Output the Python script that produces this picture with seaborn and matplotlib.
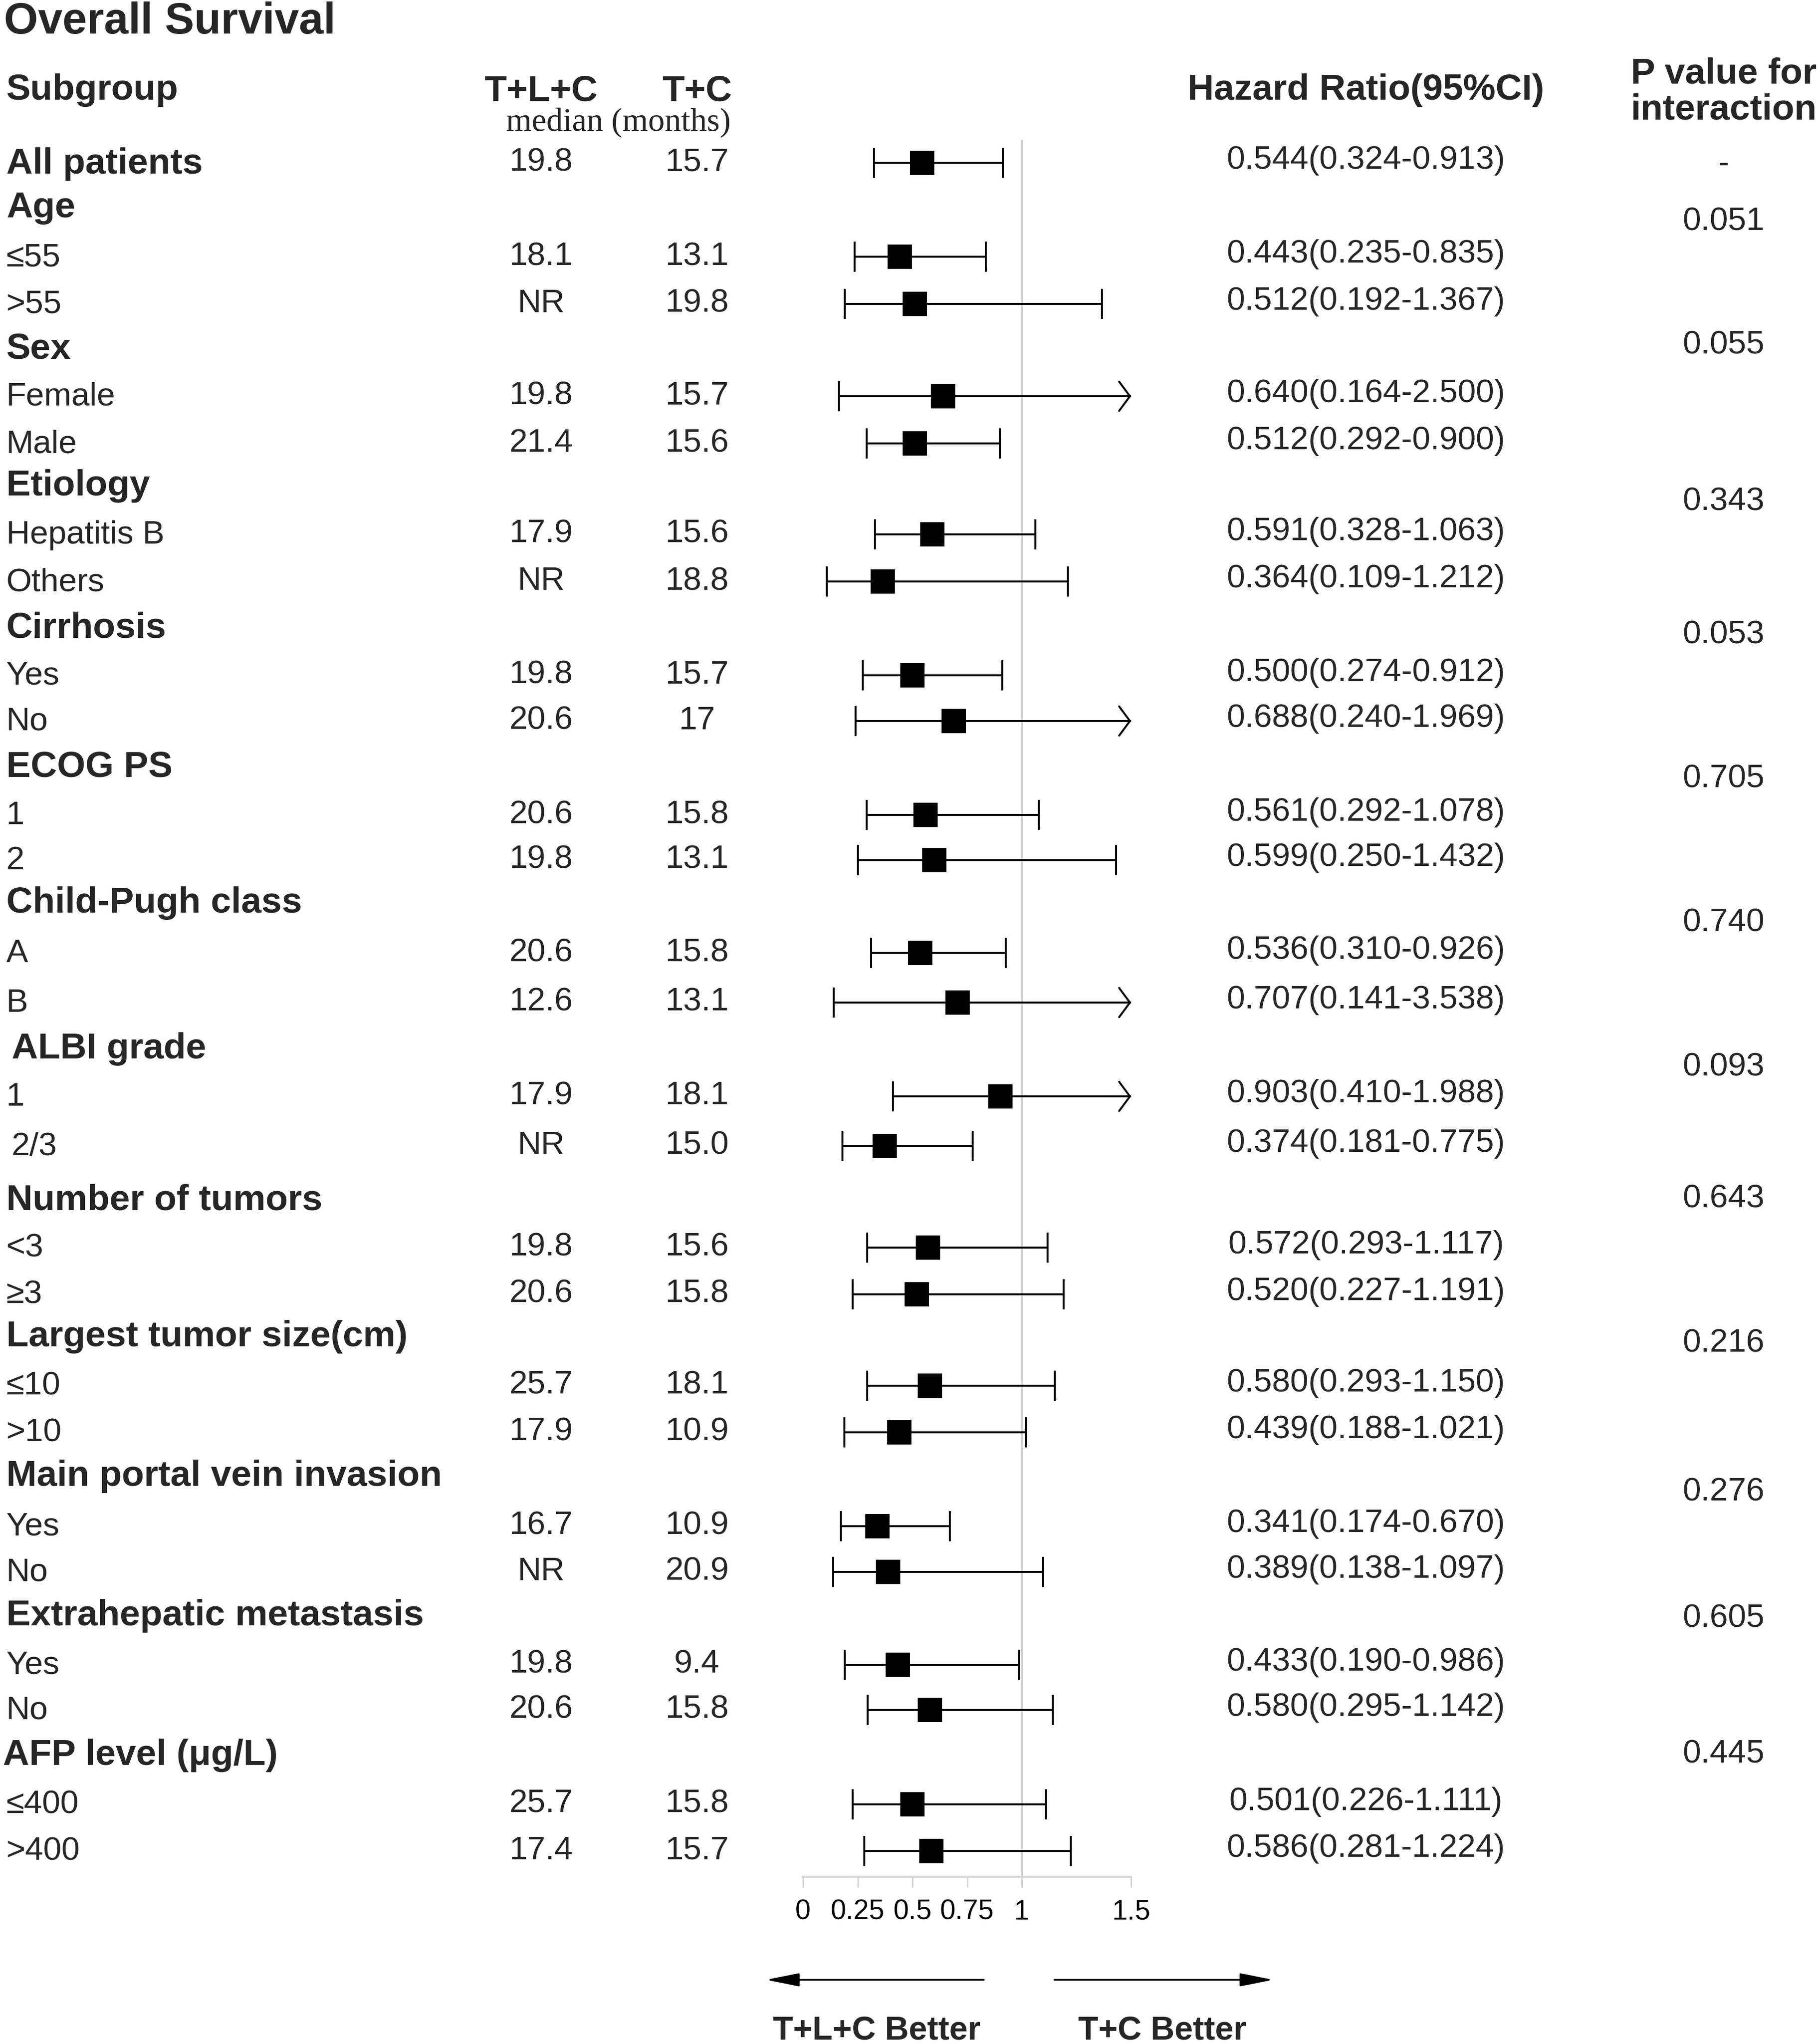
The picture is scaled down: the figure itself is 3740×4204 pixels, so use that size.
import numpy as np
import matplotlib
matplotlib.use("Agg")
import matplotlib.pyplot as plt
import matplotlib.transforms as mtransforms
import seaborn as sns

# ---- data ----
group_names = ["Age", "Sex", "Etiology", "Cirrhosis", "ECOG PS", "Child-Pugh class",
               "ALBI grade", "Number of tumors", "Largest tumor size(cm)",
               "Main portal vein invasion", "Extrahepatic metastasis", "AFP level (μg/L)"]
group_p = ["0.051", "0.055", "0.343", "0.053", "0.705", "0.740",
           "0.093", "0.643", "0.216", "0.276", "0.605", "0.445"]
group_levels = [["≤55", ">55"], ["Female", "Male"], ["Hepatitis B", "Others"],
                ["Yes", "No"], ["1", "2"], ["A", "B"], ["1", "2/3"], ["<3", "≥3"],
                ["≤10", ">10"], ["Yes", "No"], ["Yes", "No"], ["≤400", ">400"]]

# first entry is "All patients", then the levels in order
tlc_median = ["19.8", "18.1", "NR", "19.8", "21.4", "17.9", "NR", "19.8", "20.6",
              "20.6", "19.8", "20.6", "12.6", "17.9", "NR", "19.8", "20.6",
              "25.7", "17.9", "16.7", "NR", "19.8", "20.6", "25.7", "17.4"]
tc_median = ["15.7", "13.1", "19.8", "15.7", "15.6", "15.6", "18.8", "15.7", "17",
             "15.8", "13.1", "15.8", "13.1", "18.1", "15.0", "15.6", "15.8",
             "18.1", "10.9", "10.9", "20.9", "9.4", "15.8", "15.8", "15.7"]
hr = [0.544, 0.443, 0.512, 0.640, 0.512, 0.591, 0.364, 0.500, 0.688,
      0.561, 0.599, 0.536, 0.707, 0.903, 0.374, 0.572, 0.520,
      0.580, 0.439, 0.341, 0.389, 0.433, 0.580, 0.501, 0.586]
ci_low = [0.324, 0.235, 0.192, 0.164, 0.292, 0.328, 0.109, 0.274, 0.240,
          0.292, 0.250, 0.310, 0.141, 0.410, 0.181, 0.293, 0.227,
          0.293, 0.188, 0.174, 0.138, 0.190, 0.295, 0.226, 0.281]
ci_high = [0.913, 0.835, 1.367, 2.500, 0.900, 1.063, 1.212, 0.912, 1.969,
           1.078, 1.432, 0.926, 3.538, 1.988, 0.775, 1.117, 1.191,
           1.150, 1.021, 0.670, 1.097, 0.986, 1.142, 1.111, 1.224]

xticks = [0, 0.25, 0.5, 0.75, 1, 1.5]
xtick_labels = ["0", "0.25", "0.5", "0.75", "1", "1.5"]
x_max = 1.5

# ---- layout: vertical position of each row (pixels from top), p-value positions ----
row_y = [335, 426, 528, 625, 716, 815, 912, 997, 1099, 1196, 1290, 1389, 1483,
         1576, 1676, 1769, 1855, 1960, 2062, 2156, 2255, 2357, 2467, 2566, 2662,
         2748, 2850, 2946, 3035, 3139, 3233, 3322, 3424, 3517, 3609, 3711, 3807]
p_y = [456, 710, 1032, 1306, 1603, 1898, 2196, 2467, 2764, 3070, 3330, 3609]
label_indent = {19: 24, 21: 24, 34: 6}

# ---- build row table ----
labels = ["All patients"]
bold = [True]
data_rows = [0]
header_rows = []
for name, levels in zip(group_names, group_levels):
    header_rows.append(len(labels))
    labels.append(name)
    bold.append(True)
    for lev in levels:
        data_rows.append(len(labels))
        labels.append(lev)
        bold.append(False)

hr = np.array(hr)
ci_low = np.array(ci_low)
ci_high = np.array(ci_high)
y_data = np.array([row_y[r] for r in data_rows], dtype=float)
over = ci_high > x_max

# ---- style ----
sns.set_theme(style="white")
plt.rcParams["font.family"] = ["Liberation Sans", "DejaVu Sans"]
W, H = 3740, 4204
fig = plt.figure(figsize=(W / 100, H / 100), dpi=100)

ax_top, ax_bottom = 287, 3860
ax = fig.add_axes([1652 / W, (H - ax_bottom) / H, 675 / W, (ax_bottom - ax_top) / H])
grey = "#d3d3d3"

ax.axvline(1, color=grey, lw=2.2, zorder=1)

# CI lines and caps
ax.hlines(y_data, ci_low, np.minimum(ci_high, x_max), color="black", lw=2.9, zorder=2)
ax.plot(ci_low, y_data, ls="none", marker="|", ms=44, mew=2.9, color="black", zorder=2)
ax.plot(ci_high[~over], y_data[~over], ls="none", marker="|", ms=44, mew=2.9,
        color="black", zorder=2)
for yy in y_data[over]:
    ax.annotate("", xy=(x_max, yy), xytext=(x_max - 0.1, yy),
                arrowprops=dict(arrowstyle="->,head_length=0.8,head_width=1.08",
                                mutation_scale=20, lw=2.9, color="black",
                                shrinkA=0, shrinkB=0),
                annotation_clip=False)

sns.scatterplot(x=hr, y=y_data, marker="s", s=1296, color="black", linewidth=0,
                ax=ax, zorder=3, clip_on=False)

ax.set_xlim(0, x_max)
ax.set_ylim(ax_bottom, ax_top)
ax.set_xlabel("")
ax.set_ylabel("")
ax.set_yticks([])
ax.set_xticks(xticks)
ax.set_xticklabels(xtick_labels)
ax.tick_params(axis="x", bottom=True, length=16, width=2.2, color=grey,
               labelsize=41, pad=17, labelcolor="black")
for side in ["top", "left", "right"]:
    ax.spines[side].set_visible(False)
ax.spines["bottom"].set_color(grey)
ax.spines["bottom"].set_linewidth(2.9)
ax.grid(False)
ax.patch.set_alpha(0)

# ---- text columns ----
trans = mtransforms.blended_transform_factory(fig.transFigure, ax.transData)
x_label, x_tlc, x_tc, x_hr, x_p = 13 / W, 1113 / W, 1434 / W, 2810 / W, 3546 / W

for i, (lab, b) in enumerate(zip(labels, bold)):
    ax.text(label_indent.get(i, 13) / W, row_y[i] + 2, lab, transform=trans, ha="left",
            va="center", fontsize=54 if b else 48.5, fontweight="bold" if b else "normal")

for k, r in enumerate(data_rows):
    yy = row_y[r]
    ax.text(x_tlc, yy, tlc_median[k], transform=trans, ha="center", va="center", fontsize=48.5)
    ax.text(x_tc, yy, tc_median[k], transform=trans, ha="center", va="center", fontsize=48.5)
    ax.text(x_hr, yy - 5, f"{hr[k]:.3f}({ci_low[k]:.3f}-{ci_high[k]:.3f})", transform=trans,
            ha="center", va="center", fontsize=48.5)

ax.text(x_p, row_y[0] + 3, "-", transform=trans, ha="center", va="center", fontsize=48.5)
for yy, p in zip(p_y, group_p):
    ax.text(x_p, yy, p, transform=trans, ha="center", va="center", fontsize=48.5)

# ---- headers ----
def fy(px):
    return 1 - px / H

fig.text(8 / W, fy(46), "Overall Survival", ha="left", va="center", fontsize=65, fontweight="bold")
fig.text(x_label, fy(186), "Subgroup", ha="left", va="center", fontsize=54, fontweight="bold")
fig.text(x_tlc, fy(188), "T+L+C", ha="center", va="center", fontsize=54, fontweight="bold")
fig.text(x_tc, fy(188), "T+C", ha="center", va="center", fontsize=54, fontweight="bold")
fig.text(1272 / W, fy(252), "median (months)", ha="center", va="center", fontsize=49,
         family=["Liberation Serif", "DejaVu Serif"])
fig.text(x_hr, fy(186), "Hazard Ratio(95%CI)", ha="center", va="center", fontsize=54,
         fontweight="bold")
fig.text(x_p, fy(152), "P value for", ha="center", va="center", fontsize=54, fontweight="bold")
fig.text(x_p, fy(226), "interaction", ha="center", va="center", fontsize=54, fontweight="bold")

# ---- direction arrows ----
arrow_kw = dict(arrowstyle="-|>,head_length=2.1,head_width=0.42", mutation_scale=20,
                lw=2.5, color="black", shrinkA=0, shrinkB=0)
fig.add_artist(matplotlib.patches.FancyArrowPatch((2024 / W, fy(4072)), (1576 / W, fy(4072)),
                                                  transform=fig.transFigure, **arrow_kw))
fig.add_artist(matplotlib.patches.FancyArrowPatch((2169 / W, fy(4072)), (2619 / W, fy(4072)),
                                                  transform=fig.transFigure, **arrow_kw))
fig.text(1804 / W, fy(4178), "T+L+C Better", ha="center", va="center", fontsize=49,
         fontweight="bold")
fig.text(2391 / W, fy(4178), "T+C Better", ha="center", va="center", fontsize=49,
         fontweight="bold")

fig.savefig("out.png", dpi=100, facecolor="white")
